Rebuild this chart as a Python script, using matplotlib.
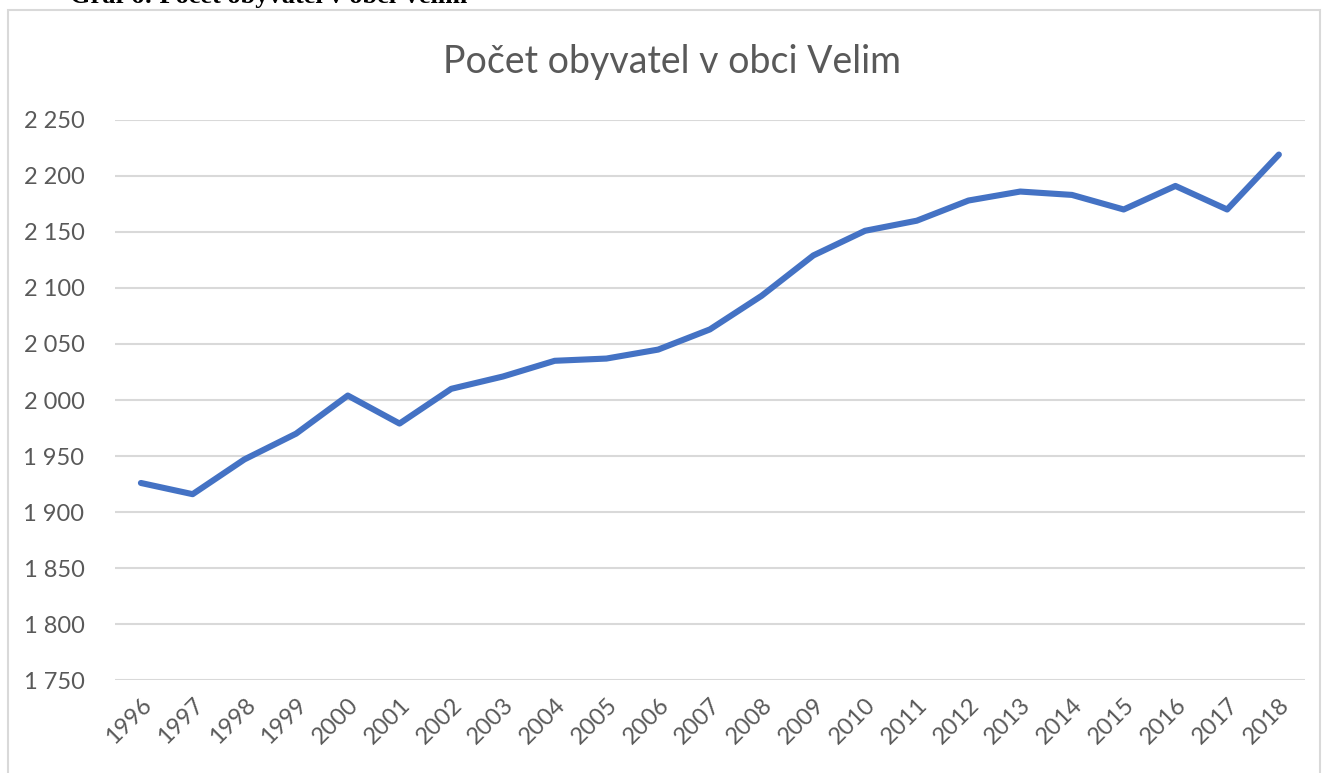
"""Graf 6: Počet obyvatel v obci Velim"""

import matplotlib
matplotlib.use('Agg')
import matplotlib.pyplot as plt
from matplotlib.patches import Rectangle
from matplotlib.ticker import FuncFormatter

# data
roky = [str(r) for r in range(1996, 2019)]
obyvatele = [1926, 1916, 1947, 1970, 2004, 1979, 2010, 2021, 2035, 2037,
             2045, 2063, 2093, 2129, 2151, 2160, 2178, 2186, 2183, 2170,
             2191, 2170, 2219]
y_ticks = [1750, 1800, 1850, 1900, 1950, 2000, 2050, 2100, 2150, 2200, 2250]

plt.rcParams['font.family'] = ['Lato', 'DejaVu Sans']

fig = plt.figure(figsize=(13.3, 7.73), dpi=100)
ax = fig.add_axes([0.0865, 0.12, 0.8945, 0.725])

x = list(range(len(roky)))
ax.plot(x, obyvatele, color='#4472C4', linewidth=4.4, solid_capstyle='round',
        solid_joinstyle='round', zorder=3)

ax.set_xlim(-0.5, len(roky) - 0.5)
ax.set_ylim(1750, 2250)
ax.set_yticks(y_ticks)
ax.yaxis.set_major_formatter(FuncFormatter(lambda v, p: f"{int(v):,}".replace(',', ' ')))
ax.set_xticks(x)
ax.set_xticklabels(roky, rotation=45, ha='right', rotation_mode='anchor')

ax.grid(axis='y', color='#d9d9d9', linewidth=1.5, zorder=0)
for s in ax.spines.values():
    s.set_visible(False)
ax.tick_params(axis='both', length=0, labelsize=17, labelcolor='#595959')
ax.tick_params(axis='y', pad=22)
ax.tick_params(axis='x', pad=10)

# nadpis grafu
fig.text(672 / 1330, 1 - 62 / 773, 'Počet obyvatel v obci Velim', fontsize=27,
         color='#595959', ha='center', va='center')

# rámeček grafu
fig.patches.append(Rectangle((8 / 1330, -0.05), 1312 / 1330, 1 - 10 / 773 + 0.05,
                             transform=fig.transFigure, fill=False,
                             edgecolor='#d9d9d9', linewidth=1.5))

# popisek nad grafem (oříznutý)
fig.text(70 / 1330, 1.004, 'Graf 6: Počet obyvatel v obci Velim',
         family='Liberation Serif', fontweight='bold', fontsize=19,
         ha='left', va='center', color='black')

fig.savefig('out.png', dpi=100)
